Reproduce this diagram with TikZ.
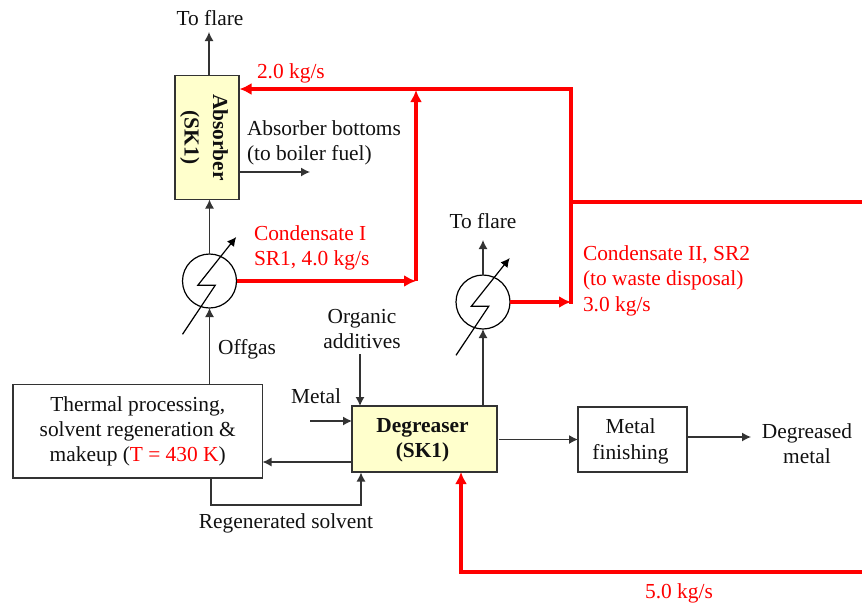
\documentclass[tikz,border=0pt]{standalone}
\usepackage{fontspec}
\setmainfont{Liberation Serif}
\usetikzlibrary{arrows.meta,calc}
\definecolor{boxyellow}{HTML}{FFFFCC}
\definecolor{ink}{HTML}{111111}
\definecolor{wire}{HTML}{333333}
\tikzset{
  x=1pt,y=-1pt,
  every node/.style={font=\fontsize{21.4}{25.4}\selectfont,inner sep=0pt,outer sep=0pt,text=ink},
  flow/.style={draw=wire,line width=1.3pt,-{Latex[length=9pt,width=9pt]}},
  redflow/.style={draw=red,line width=3.3pt,-{Latex[length=12pt,width=12pt]}},
  redline/.style={draw=red,line width=3.3pt},
  redthick/.style={draw=red,line width=4.4pt},
  proc/.style={draw=wire,line width=1.4pt,fill=white,align=center},
  unit/.style={draw=wire,line width=1.4pt,fill=boxyellow,align=center},
  unittext/.style={align=center,font=\fontsize{21.4}{25.4}\selectfont\bfseries},
  hx/.style={circle,draw=black,line width=1.2pt,fill=white,minimum size=54pt},
  redlabel/.style={text=red,align=left,anchor=west},
  lab/.style={align=center},
}
\newcommand{\hxmark}[1]{%
  \draw[black,line width=1.2pt,-{Latex[length=9pt,width=9pt]}] ($(#1)+(-27,53.3)$) -- ($(#1)+(5.7,4.3)$) -- ($(#1)+(-11.7,4.3)$) -- ($(#1)+(26.7,-44)$);}
\begin{document}
\begin{tikzpicture}
\useasboundingbox (0,0) rectangle (862,606);
% units
\node[unit,minimum width=64pt,minimum height=124pt] (abs) at (207,137.5) {};
\node[unittext,rotate=-90] (abslab) at (204,137.5) {Absorber\\[3pt](SK1)};
\node[hx] (hxa) at (209.5,281) {};
\node[hx] (hxb) at (483,302) {};
\node[proc,minimum width=249.5pt,minimum height=93.5pt] (therm) at (137.75,431.25) {Thermal processing,\\solvent regeneration \&\\makeup ({\color{red}T = 430 K})};
\node[unit,minimum width=145pt,minimum height=66pt] (deg) at (424.5,439) {};
\node[unittext] (deglab) at (422.5,440.5) {Degreaser\\(SK1)};
\node[proc,minimum width=109pt,minimum height=65pt] (fin) at (632.5,439.5) {};
\node[lab] (finlab) at (630.5,441.5) {Metal\\finishing};
% labels
\node[lab] (flareA) at (210,18) {To flare};
\node[lab] (flareB) at (483,221) {To flare};
\node[anchor=west,align=left] (bott) at (247,143) {Absorber bottoms\\(to boiler fuel)};
\node[lab] (offgas) at (247,349) {Offgas};
\node[lab] (org) at (362,329) {Organic\\additives};
\node[lab] (metal) at (316,396) {Metal};
\node[lab] (regen) at (286,523.5) {Regenerated solvent};
\node[lab] (degm) at (807,443.5) {Degreased\\metal};
\node[redlabel] (r20) at (257,73.5) {2.0 kg/s};
\node[redlabel] (r40) at (254,248) {Condensate I\\SR1, 4.0 kg/s};
\node[redlabel] (r30) at (583,280.5) {Condensate II, SR2\\(to waste disposal)\\3.0 kg/s};
\node[lab,text=red] (r50) at (679,593) {5.0 kg/s};
% helper coordinates
\coordinate (flareAend) at (209,32);
\coordinate (flareBend) at (483,240);
\coordinate (jred) at (571,89);
\coordinate (jmid) at (416,89);
\coordinate (jlow) at (416,281);
\coordinate (jb) at (571,302);
\coordinate (jw) at (571,202);
\coordinate (eastw) at (862,202);
\coordinate (eastr) at (862,572);
\coordinate (redc) at (461,572);
\coordinate (botend) at (310,172);
\coordinate (orgs) at (360,354);
\coordinate (metals) at (310,421);
\coordinate (outend) at (751,437);
% black connectors
\draw[flow] (flareAend |- abs.north) -- (flareAend);
\draw[flow] (hxa.north) -- (hxa.north |- abs.south);
\draw[flow] (hxa.south |- therm.north) -- (hxa.south);
\draw[flow] (abs.east |- botend) -- (botend);
\draw[flow] (hxb.north) -- (flareBend);
\draw[flow] (hxb.south |- deg.north) -- (hxb.south);
\draw[flow] (orgs) -- (orgs |- deg.north);
\draw[flow] (metals) -- (metals -| deg.west);
\draw[flow] (deg.west |- 0,462) -- (therm.east |- 0,462);
\draw[flow] (211,478) -- (211,505) -- (361,505) -- (361,472.5);
\draw[flow] (499,439.5) -- (fin.west);
\draw[flow] (fin.east |- outend) -- (outend);
% exchangers
\hxmark{hxa}
\hxmark{hxb}
% red streams
\draw[redflow] (jred) -- (239.5,89);
\draw[redflow] (hxa.east) -- (jlow);
\draw[redflow] (jlow) -- ($(jmid)+(0,1)$);
\draw[redflow] (hxb.east) -- (jb);
\draw[redthick] ($(jred)+(0,-2)$) -- ($(jb)+(0,2)$);
\draw[redline] (jw) -- (eastw);
\draw[redflow] (eastr) -- (redc) -- (redc |- deg.south);
\end{tikzpicture}
\end{document}
